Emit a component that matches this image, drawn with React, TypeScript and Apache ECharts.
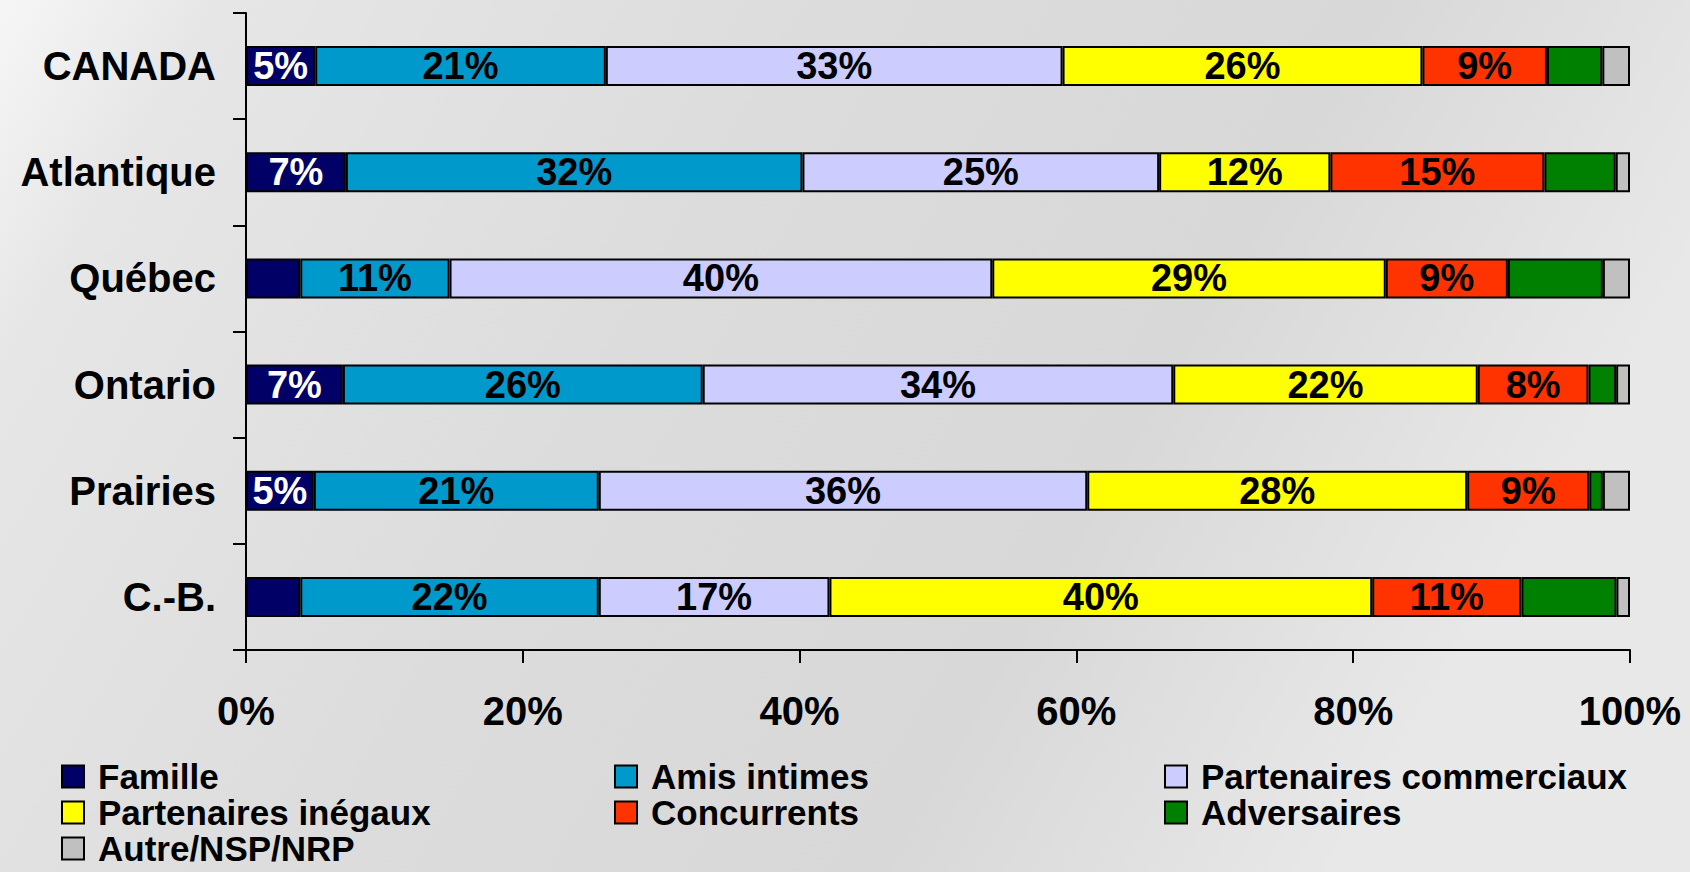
import React, { useEffect, useRef } from "react";
import * as echarts from "echarts";

const categories = ["CANADA", "Atlantique", "Québec", "Ontario", "Prairies", "C.-B."];
const seriesNames = [
  "Famille",
  "Amis intimes",
  "Partenaires commerciaux",
  "Partenaires inégaux",
  "Concurrents",
  "Adversaires",
  "Autre/NSP/NRP",
];
const colors = ["#000066", "#0099CC", "#CCCCFF", "#FFFF00", "#FF3300", "#008000", "#C0C0C0"];

const famille = [5, 7, 4, 7, 5, 4];
const amisIntimes = [21, 32, 11, 26, 21, 22];
const partCommerciaux = [33, 25, 40, 34, 36, 17];
const partInegaux = [26, 12, 29, 22, 28, 40];
const concurrents = [9, 15, 9, 8, 9, 11];
const adversaires = [4, 5, 7, 2, 1, 7];
const autre = [2, 1, 2, 1, 2, 1];

const xTicks = [0, 20, 40, 60, 80, 100];

// legend layout: [series index, column, row]
const legendSlots = [
  [0, 0, 0],
  [1, 1, 0],
  [2, 2, 0],
  [3, 0, 1],
  [4, 1, 1],
  [5, 2, 1],
  [6, 0, 2],
];

const allSeries = [famille, amisIntimes, partCommerciaux, partInegaux, concurrents, adversaires, autre];

const FONT = "'Liberation Sans', Arial, sans-serif";

export default function App() {
  const ref = useRef<HTMLDivElement>(null);
  useEffect(() => {
    if (!ref.current) return;
    const chart = echarts.init(ref.current, undefined, { renderer: "svg" });
    const sums = categories.map((_, i) => allSeries.reduce((s, arr) => s + arr[i], 0));

    const series = allSeries.map((arr, si) => ({
      name: seriesNames[si],
      type: "bar",
      stack: "total",
      barWidth: 40,
      itemStyle: { color: colors[si], borderColor: "#000", borderWidth: 2 },
      emphasis: { disabled: true },
      data: arr.map((v, i) => {
        const show = si < 5 && !(si === 0 && v < 5);
        return {
          value: (v / sums[i]) * 100,
          label: {
            show,
            position: "inside",
            formatter: v + "%",
            color: si === 0 ? "#fff" : "#000",
            fontFamily: FONT,
            fontWeight: "bold",
            fontSize: 38,
          },
        };
      }),
    }));

    const colX = [61, 614, 1164];
    const rowTop = [759, 795, 831];
    const legends = legendSlots.map(([si, c, r]) => ({
      orient: "horizontal",
      left: colX[c],
      top: rowTop[r],
      padding: 0,
      itemWidth: 22,
      itemHeight: 22,
      icon: "rect",
      itemStyle: { borderColor: "#000", borderWidth: 2 },
      textStyle: {
        fontFamily: FONT,
        fontWeight: "bold",
        fontSize: 35,
        lineHeight: 34,
        color: "#000",
        padding: [0, 0, 0, 9],
      },
      selectedMode: false,
      data: [seriesNames[si]],
    }));

    chart.setOption({
      animation: false,
      backgroundColor: {
        type: "linear",
        x: 0,
        y: 0,
        x2: 1,
        y2: 0.3,
        colorStops: [
          { offset: 0, color: "#f6f6f6" },
          { offset: 0.12, color: "#e6e6e6" },
          { offset: 0.45, color: "#dcdcdc" },
          { offset: 0.75, color: "#d8d8d8" },
          { offset: 1, color: "#e8e8e8" },
        ],
      },
      grid: { left: 246, right: 60, top: 13, height: 637, containLabel: false },
      xAxis: {
        type: "value",
        min: 0,
        max: 100,
        interval: 20,
        splitLine: { show: false },
        axisLine: { show: true, lineStyle: { color: "#000", width: 2 } },
        axisTick: { show: true, length: 13, lineStyle: { color: "#000", width: 2 } },
        axisLabel: {
          formatter: (v: number) => (xTicks.includes(v) ? v + "%" : ""),
          margin: 41,
          fontFamily: FONT,
          fontWeight: "bold",
          fontSize: 40,
          color: "#000",
        },
      },
      yAxis: {
        type: "category",
        data: categories,
        inverse: true,
        axisLine: { show: true, lineStyle: { color: "#000", width: 2 } },
        axisTick: { show: true, length: 13, lineStyle: { color: "#000", width: 2 } },
        axisLabel: {
          margin: 30,
          fontFamily: FONT,
          fontWeight: "bold",
          fontSize: 40,
          color: "#000",
        },
      },
      legend: legends,
      series,
    });
    return () => chart.dispose();
  }, []);
  return (
    <div
      ref={ref}
      style={{ position: "fixed", left: 0, top: 0, width: 1690, height: 872 }}
    />
  );
}
